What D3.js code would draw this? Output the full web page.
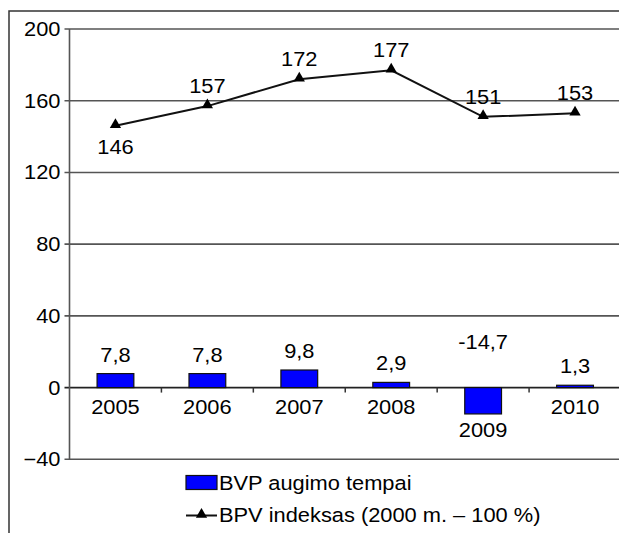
<!DOCTYPE html>
<html>
<head>
<meta charset="utf-8">
<script src="https://cdn.jsdelivr.net/npm/d3@7"></script>
<style>
  body { margin: 0; background: #fff; }
  svg text { font-family: "Liberation Sans", Arial, sans-serif; font-size: 19.5px; fill: #000; }
</style>
</head>
<body>
<script>
// ! Chart data
const years = ["2005", "2006", "2007", "2008", "2009", "2010"];
const growth = [7.8, 7.8, 9.8, 2.9, -14.7, 1.3];
const growthLabels = ["7,8", "7,8", "9,8", "2,9", "-14,7", "1,3"];
const indexValues = [146, 157, 172, 177, 151, 153];
const yTicks = [-40, 0, 40, 80, 120, 160, 200];
const yTickLabels = ["\u221240", "0", "40", "80", "120", "160", "200"];
const legendLabels = ["BVP augimo tempai", "BPV indeksas (2000 m. \u2013 100 %)"];

const width = 619;
const height = 533;
const stretch = 1.12; // text in the original is slightly wide

const svg = d3
  .select("body")
  .append("svg")
  .attr("width", width)
  .attr("height", height);

// place text at (x, y) with a small horizontal stretch
const place = (sel, fx, fy) =>
  sel.attr("transform", (d, i) => `translate(${fx(d, i)},${fy(d, i)}) scale(${stretch},1)`);

// ! Outer frame (runs off right and bottom edges)
svg
  .append("rect")
  .attr("x", 9)
  .attr("y", 11)
  .attr("width", 640)
  .attr("height", 560)
  .attr("fill", "none")
  .attr("stroke", "#333")
  .attr("stroke-width", 1.5);

// ! Scales
const left = 69.5;
const right = 621;
const yScale = d3.scaleLinear().domain([-40, 200]).range([459.3, 29]);
const xScale = d3
  .scaleBand()
  .domain(years)
  .range([left, right])
  .paddingInner(0.6)
  .paddingOuter(0.3);
const xc = (d) => xScale(d) + xScale.bandwidth() / 2;

// ! Gridlines
svg
  .append("g")
  .selectAll("line")
  .data(yTicks)
  .enter()
  .append("line")
  .attr("x1", left - 5)
  .attr("x2", right)
  .attr("y1", (d) => yScale(d))
  .attr("y2", (d) => yScale(d))
  .attr("stroke", (d) => (d === 0 ? "#222" : "#555"))
  .attr("stroke-width", 1.6);

// ! Y axis line and labels
svg
  .append("line")
  .attr("x1", left)
  .attr("x2", left)
  .attr("y1", yScale(200))
  .attr("y2", yScale(-40))
  .attr("stroke", "#555")
  .attr("stroke-width", 1.6);

svg
  .append("g")
  .selectAll("text")
  .data(yTicks)
  .enter()
  .append("text")
  .attr("text-anchor", "end")
  .call(place, () => left - 9, (d) => yScale(d) + 7)
  .text((d, i) => yTickLabels[i]);

// ! X axis tick marks at band boundaries
const step = xScale.step();
svg
  .append("g")
  .selectAll("line")
  .data(d3.range(1, years.length))
  .enter()
  .append("line")
  .attr("x1", (i) => left + step * i)
  .attr("x2", (i) => left + step * i)
  .attr("y1", yScale(0))
  .attr("y2", yScale(0) + 5)
  .attr("stroke", "#333")
  .attr("stroke-width", 1.5);

// ! Bars
svg
  .append("g")
  .selectAll("rect")
  .data(growth)
  .enter()
  .append("rect")
  .attr("x", (d, i) => xScale(years[i]))
  .attr("y", (d) => yScale(Math.max(d, 0)))
  .attr("width", xScale.bandwidth())
  .attr("height", (d) => Math.abs(yScale(d) - yScale(0)))
  .attr("fill", "#0000ff")
  .attr("stroke", "#111")
  .attr("stroke-width", 1.2);

// ! Bar labels
svg
  .append("g")
  .selectAll("text")
  .data(growth)
  .enter()
  .append("text")
  .attr("text-anchor", "middle")
  .call(
    place,
    (d, i) => xc(years[i]),
    (d) => (d >= 0 ? yScale(d) - 12 : yScale(0) - 39)
  )
  .text((d, i) => growthLabels[i]);

// ! Category labels
svg
  .append("g")
  .selectAll("text")
  .data(years)
  .enter()
  .append("text")
  .attr("text-anchor", "middle")
  .call(
    place,
    (d) => xc(d),
    (d, i) => (growth[i] < 0 ? yScale(growth[i]) + 23 : yScale(0) + 26)
  )
  .text((d) => d);

// ! Index line
const line = d3
  .line()
  .x((d, i) => xc(years[i]))
  .y((d) => yScale(d));

svg
  .append("path")
  .datum(indexValues)
  .attr("d", line)
  .attr("fill", "none")
  .attr("stroke", "#111")
  .attr("stroke-width", 2);

const tri = d3.symbol().type(d3.symbolTriangle).size(55);
svg
  .append("g")
  .selectAll("path")
  .data(indexValues)
  .enter()
  .append("path")
  .attr("d", tri)
  .attr("transform", (d, i) => `translate(${xc(years[i])},${yScale(d) - 1})`)
  .attr("fill", "#000");

svg
  .append("g")
  .selectAll("text")
  .data(indexValues)
  .enter()
  .append("text")
  .attr("text-anchor", "middle")
  .call(
    place,
    (d, i) => xc(years[i]),
    (d, i) => (i === 0 ? yScale(d) + 28 : yScale(d) - 13)
  )
  .text((d) => d);

// ! Legend
const legend = svg.append("g").attr("transform", "translate(186, 0)");
legend
  .append("rect")
  .attr("x", 0)
  .attr("y", 475.5)
  .attr("width", 31)
  .attr("height", 14)
  .attr("fill", "#0000ff")
  .attr("stroke", "#111")
  .attr("stroke-width", 1.2);
legend
  .append("text")
  .datum(legendLabels[0])
  .call(place, () => 33, () => 490)
  .text((d) => d);
legend
  .append("line")
  .attr("x1", 0)
  .attr("x2", 31)
  .attr("y1", 515.5)
  .attr("y2", 515.5)
  .attr("stroke", "#111")
  .attr("stroke-width", 2);
legend
  .append("path")
  .attr("d", tri)
  .attr("transform", "translate(15.5,514.5)")
  .attr("fill", "#000");
legend
  .append("text")
  .datum(legendLabels[1])
  .call(place, () => 33, () => 522)
  .text((d) => d);
</script>
</body>
</html>
